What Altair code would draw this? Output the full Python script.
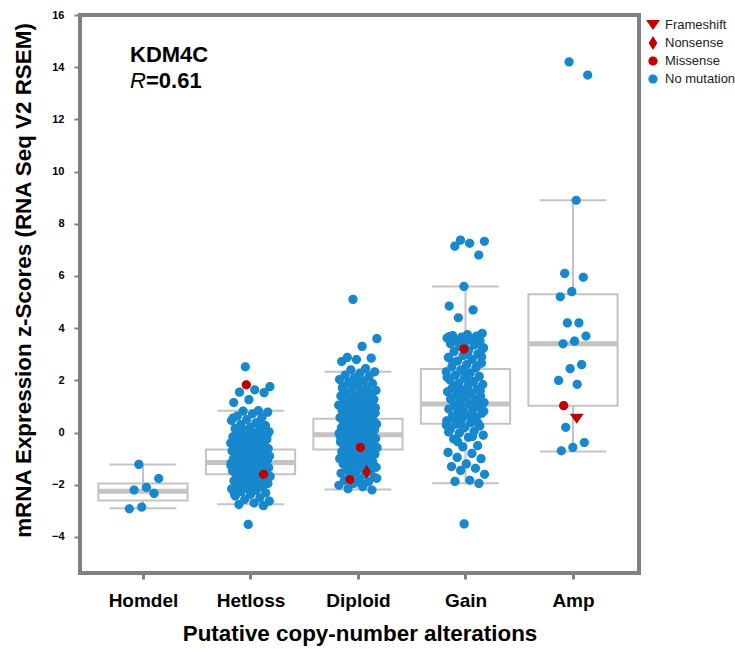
import altair as alt
import pandas as pd

categories = ["Homdel", "Hetloss", "Diploid", "Gain", "Amp"]

# box statistics
q1 = [-2.6, -1.6, -0.65, 0.34, 1.03]
median = [-2.25, -1.15, -0.08, 1.1, 3.4]
q3 = [-1.95, -0.65, 0.53, 2.44, 5.3]
whisk_lo = [-2.9, -2.75, -2.18, -1.94, -0.72]
whisk_hi = [-1.22, 0.84, 2.33, 5.6, 8.9]

# samples without mutation (estimated)
homdel_vals = [-1.22, -1.76, -2.1, -2.2, -2.33, -2.86, -2.92]
hetloss_vals = [2.52, 1.76, 1.64, 1.55, 1.53, 1.26, 1.15,
                0.84, 0.82, 0.78, 0.72, 0.63, 0.58, 0.5, 0.46, 0.38, 0.31, 0.27, 0.2, 0.15, 0.11,
                0.06, 0.03, -0.02, -0.05, -0.09, -0.13, -0.16, -0.2, -0.22, -0.26, -0.29, -0.31,
                -0.35, -0.38, -0.4, -0.43, -0.46, -0.48, -0.51, -0.53, -0.56, -0.58, -0.61, -0.63,
                -0.65, -0.67, -0.7, -0.71, -0.74, -0.76, -0.79, -0.81, -0.83, -0.85, -0.88, -0.9,
                -0.91, -0.94, -0.96, -0.98, -1.01, -1.03, -1.05, -1.07, -1.09, -1.12, -1.13, -1.15,
                -1.17, -1.19, -1.21, -1.23, -1.26, -1.27, -1.3, -1.32, -1.35, -1.37, -1.39, -1.42,
                -1.44, -1.47, -1.49, -1.52, -1.54, -1.57, -1.6, -1.62, -1.65, -1.68, -1.71, -1.74,
                -1.78, -1.81, -1.85, -1.88, -1.92, -1.95, -1.99, -2.03, -2.07, -2.12, -2.16, -2.21,
                -2.26, -2.31, -2.37, -2.43, -2.5, -2.56, -2.63, -2.7, -2.76, -2.8, -3.52,
                0.55, 0.35, 0.12, -0.1, -0.33, -0.55, -0.8, -1.0, -1.25, -1.45, -1.7, -1.9,
                -2.1, -2.35]
diploid_vals = [5.1, 3.6, 3.3, 2.88, 2.85, 2.8, 2.72,
                2.45, 2.4, 2.33, 2.28, 2.2, 2.15, 2.1, 2.03, 1.98, 1.92, 1.88, 1.82, 1.77, 1.73,
                1.68, 1.62, 1.58, 1.53, 1.49, 1.44, 1.4, 1.35, 1.31, 1.27, 1.22, 1.18, 1.14, 1.1,
                1.05, 1.01, 0.97, 0.93, 0.9, 0.86, 0.82, 0.78, 0.75, 0.71, 0.67, 0.64, 0.6, 0.57,
                0.53, 0.5, 0.47, 0.44, 0.41, 0.38, 0.35, 0.32, 0.29, 0.26, 0.23, 0.2, 0.18, 0.15,
                0.12, 0.1, 0.07, 0.04, 0.02, -0.01, -0.03, -0.06, -0.08, -0.11, -0.13, -0.16,
                -0.18, -0.21, -0.23, -0.26, -0.28, -0.31, -0.33, -0.36, -0.39, -0.41, -0.44, -0.47,
                -0.5, -0.52, -0.55, -0.58, -0.61, -0.64, -0.67, -0.7, -0.73, -0.76, -0.79, -0.83,
                -0.86, -0.9, -0.93, -0.97, -1.0, -1.04, -1.08, -1.12, -1.16, -1.2, -1.24, -1.28,
                -1.33, -1.37, -1.42, -1.46, -1.51, -1.56, -1.61, -1.66, -1.71, -1.77, -1.83, -1.89,
                -1.95, -2.02, -2.08, -2.15, -2.2,
                1.95, 1.7, 1.45, 1.2, 0.95, 0.7, 0.45, 0.25, 0.05, -0.15, -0.35, -0.55, -0.75,
                -0.95, -1.15, -1.35, -1.55, -1.75, -1.98]
gain_vals = [7.37, 7.33, 7.25, 7.14, 6.8, 5.6, 4.85, 4.7, 4.4,
             3.8, 3.75, 3.72, 3.7, 3.66, 3.62, 3.6, 3.55, 3.5, 3.45, 3.4, 3.36, 3.3, 3.25, 3.15,
             3.1, 3.02, 2.95, 2.88, 2.8, 2.74, 2.66, 2.6, 2.52, 2.47, 2.4, 2.33, 2.27, 2.2, 2.15,
             2.08, 2.02, 1.95, 1.9, 1.84, 1.78, 1.73, 1.67, 1.62, 1.56, 1.5, 1.45, 1.4, 1.35, 1.3,
             1.25, 1.2, 1.15, 1.1, 1.05, 1.0, 0.95, 0.9, 0.85, 0.8, 0.74, 0.68, 0.62, 0.57, 0.5,
             0.45, 0.38, 0.32, 0.25, 0.2, 0.12, 0.05, -0.02, -0.1, -0.18, -0.25, -0.5, -0.55,
             -0.76, -0.8, -0.95, -1.0, -1.2, -1.3, -1.37, -1.45, -1.6, -1.83, -1.87, -1.95, -3.5,
             3.68, 3.58, 3.42, 3.2, 2.98, 2.7, 2.55, 2.36, 2.12, 1.98, 1.8, 1.6, 1.42, 1.28, 1.12,
             0.98, 0.82, 0.66, 0.52, 0.35, 0.18, 0.02, -0.15, -0.35, 2.9, 2.25, 1.7, 1.18, 0.72,
             0.28]
amp_vals = [14.2, 13.7, 8.9, 6.1, 5.95, 5.4, 5.2, 4.2, 4.2, 3.7, 3.5, 3.4, 2.6, 2.45, 2.0,
            1.85, 0.2, -0.38, -0.57, -0.7]

# mutated samples
mut_cat = ["Hetloss", "Hetloss", "Diploid", "Diploid", "Diploid", "Gain", "Amp", "Amp"]
mut_val = [1.83, -1.6, -0.57, -1.8, -1.5, 3.2, 1.03, 0.53]
mut_type = ["Missense", "Missense", "Missense", "Missense", "Nonsense", "Missense",
            "Missense", "Frameshift"]

legend_types = ["Frameshift", "Nonsense", "Missense", "No mutation"]
type_colors = ["#c00000", "#c00000", "#c00000", "#1788cd"]
type_shapes = [
    "M-1,-0.7L1,-0.7L0,0.7Z",
    "M0,-1L0.62,0L0,1L-0.62,0Z",
    "M-0.66,0A0.66,0.66,0,1,0,0.66,0A0.66,0.66,0,1,0,-0.66,0Z",
    "M-0.66,0A0.66,0.66,0,1,0,0.66,0A0.66,0.66,0,1,0,-0.66,0Z",
]

FONT = "Liberation Sans"

# ---- tables
box_df = pd.DataFrame({"cat": categories, "idx": list(range(5)), "q1": q1, "median": median,
                       "q3": q3, "lo": whisk_lo, "hi": whisk_hi})

spreads = {"Homdel": 0.30, "Hetloss": 0.37, "Diploid": 0.36, "Gain": 0.36, "Amp": 0.28}
groups = {"Homdel": homdel_vals, "Hetloss": hetloss_vals, "Diploid": diploid_vals,
          "Gain": gain_vals, "Amp": amp_vals}
rows = []
for c, vals in groups.items():
    for k, v in enumerate(vals):
        j = ((k * 0.618034 + 0.37) % 1.0) - 0.5
        rows.append({"cat": c, "xj": categories.index(c) + j * spreads[c], "value": v,
                     "type": "No mutation", "z": 0})
for k, (c, v, t) in enumerate(zip(mut_cat, mut_val, mut_type)):
    j = ((k * 0.618034 + 0.35) % 1.0) - 0.5
    rows.append({"cat": c, "xj": categories.index(c) + j * spreads[c] * 0.7, "value": v,
                 "type": t, "z": 1})
pts_df = pd.DataFrame(rows)

xscale = alt.Scale(domain=[-0.586, 4.614], nice=False, zero=False)
yscale = alt.Scale(domain=[-5.38, 16.0], nice=False, zero=False)

label_expr = " : ".join(
    [f"datum.value == {i} ? '{c}'" for i, c in enumerate(categories)]) + " : ''"

x_axis = alt.Axis(values=[0, 1, 2, 3, 4], labelExpr=label_expr, title="Putative copy-number alterations",
                  labelFontSize=19, labelFontWeight="bold", labelColor="black", labelFont=FONT,
                  titleFontSize=22.4, titleFontWeight="bold", titleColor="black", titleFont=FONT,
                  tickColor="#808080", tickWidth=3, tickSize=6, labelPadding=12, titlePadding=12,
                  domain=False, grid=False)
y_axis = alt.Axis(values=list(range(-4, 17, 2)), title="mRNA Expression z-Scores (RNA Seq V2 RSEM)",
                  labelFontSize=11, labelFontWeight="bold", labelColor="black", labelFont=FONT,
                  titleFontSize=22.4, titleFontWeight="bold", titleColor="black", titleFont=FONT,
                  tickColor="#808080", tickWidth=2, tickSize=6, labelPadding=10, titlePadding=16,
                  titleY=265, domain=False, grid=False, labelBound=False, labelOverlap=False)

base = alt.Chart(box_df)
GREY = "#c3c3c3"

whisk_up = base.mark_rule(color=GREY, strokeWidth=2).encode(
    x=alt.X("idx:Q", scale=xscale, axis=x_axis),
    y=alt.Y("q3:Q", scale=yscale, axis=y_axis), y2="hi:Q")
whisk_dn = base.mark_rule(color=GREY, strokeWidth=2).encode(
    x=alt.X("idx:Q", scale=xscale), y=alt.Y("lo:Q", scale=yscale), y2="q1:Q")
caps_hi = base.transform_calculate(xl="datum.idx - 0.31", xr="datum.idx + 0.31").mark_rule(
    color=GREY, strokeWidth=2).encode(x=alt.X("xl:Q", scale=xscale), x2="xr:Q",
                                      y=alt.Y("hi:Q", scale=yscale))
caps_lo = base.transform_calculate(xl="datum.idx - 0.31", xr="datum.idx + 0.31").mark_rule(
    color=GREY, strokeWidth=2).encode(x=alt.X("xl:Q", scale=xscale), x2="xr:Q",
                                      y=alt.Y("lo:Q", scale=yscale))
boxes = base.transform_calculate(xl="datum.idx - 0.415", xr="datum.idx + 0.415").mark_rect(
    fill="white", stroke=GREY, strokeWidth=2).encode(
    x=alt.X("xl:Q", scale=xscale), x2="xr:Q", y=alt.Y("q1:Q", scale=yscale), y2="q3:Q")
medians = base.transform_calculate(xl="datum.idx - 0.415", xr="datum.idx + 0.415").mark_rule(
    color=GREY, strokeWidth=5).encode(x=alt.X("xl:Q", scale=xscale), x2="xr:Q",
                                      y=alt.Y("median:Q", scale=yscale))

points = alt.Chart(pts_df).mark_point(filled=True, size=196, opacity=1, strokeWidth=0).encode(
    x=alt.X("xj:Q", scale=xscale),
    y=alt.Y("value:Q", scale=yscale),
    color=alt.Color("type:N", scale=alt.Scale(domain=legend_types, range=type_colors),
                    legend=alt.Legend(title=None, orient="none", legendX=566, legendY=3,
                                      labelFontSize=13, labelFont=FONT, labelColor="#222",
                                      symbolSize=196, rowPadding=4, labelOffset=5, padding=0,
                                      symbolStrokeWidth=0)),
    shape=alt.Shape("type:N", scale=alt.Scale(domain=legend_types, range=type_shapes)),
    order=alt.Order("z:Q"),
)

gene_txt = alt.Chart(pd.DataFrame({"t": ["KDM4C"]})).mark_text(
    align="left", baseline="alphabetic", fontSize=22, fontWeight="bold", font=FONT, color="black"
).encode(text="t:N", x=alt.value(50), y=alt.value(47))
r_txt = alt.Chart(pd.DataFrame({"t": ["R"]})).mark_text(
    align="left", baseline="alphabetic", fontSize=22, fontStyle="italic", font=FONT, color="black"
).encode(text="t:N", x=alt.value(50), y=alt.value(73))
rv_txt = alt.Chart(pd.DataFrame({"t": ["=0.61"]})).mark_text(
    align="left", baseline="alphabetic", fontSize=22, fontWeight="bold", font=FONT, color="black"
).encode(text="t:N", x=alt.value(66), y=alt.value(73))

chart = alt.layer(whisk_up, whisk_dn, caps_hi, caps_lo, boxes, medians, points,
                  gene_txt, r_txt, rv_txt).properties(
    width=559, height=558,
    padding={"left": 80, "top": 15, "right": 96, "bottom": 76},
    autosize=alt.AutoSizeParams(type="none"),
    background="white",
).configure_view(stroke="#808080", strokeWidth=4)

chart.save("out.html", embed_options={"renderer": "svg", "actions": False})
